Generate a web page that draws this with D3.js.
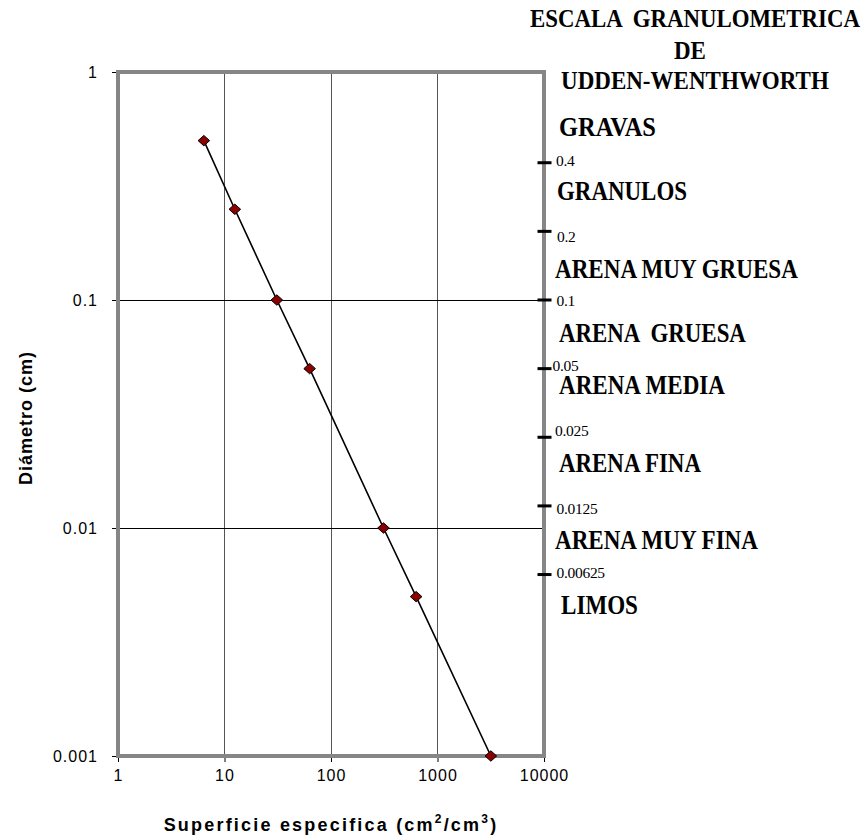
<!DOCTYPE html>
<html>
<head>
<meta charset="utf-8">
<script src="https://cdn.jsdelivr.net/npm/d3@7"></script>
<style>
  html, body { margin: 0; padding: 0; background: #fff; }
  svg { display: block; }
</style>
</head>
<body>
<svg id="chart" width="864" height="838"></svg>
<script>
// Diámetro de grano (cm) y su superficie específica (cm²/cm³)
const diametro   = [0.5, 0.25, 0.1, 0.05, 0.01, 0.005, 0.001];
const superficie = [6.4, 12.5, 31, 63, 311, 630, 3170];

const xTicks = [1, 10, 100, 1000, 10000];
const yTicks = [1, 0.1, 0.01, 0.001];
const xTickLabels = ["1", "10", "100", "1000", "10000"];
const yTickLabels = ["1", "0.1", "0.01", "0.001"];

// Límites de la escala de Udden-Wentworth (cm)
const limites = [0.4, 0.2, 0.1, 0.05, 0.025, 0.0125, 0.00625];
const limitesEtiquetas = ["0.4", "0.2", "0.1", "0.05", "0.025", "0.0125", "0.00625"];
const clases = ["GRAVAS", "GRANULOS", "ARENA MUY GRUESA", "ARENA  GRUESA",
                "ARENA MEDIA", "ARENA FINA", "ARENA MUY FINA", "LIMOS"];
const tituloEscala = ["ESCALA  GRANULOMETRICA", "DE", "UDDEN-WENTHWORTH"];

// Layout of the hand-placed scale texts (pixels)
const tituloLayout = [
  { x: 530, y: 27, w: 330, fs: 25 },
  { x: 674, y: 59, w: 32, fs: 26 },
  { x: 561, y: 89, w: 268, fs: 26 }
];
const claseLayout = [
  { x: 559, y: 135.5, w: 97 },
  { x: 557, y: 200, w: 130 },
  { x: 555, y: 278, w: 243 },
  { x: 559, y: 342, w: 187 },
  { x: 559, y: 394, w: 166 },
  { x: 559, y: 471.5, w: 142 },
  { x: 555, y: 549, w: 203 },
  { x: 561, y: 613.5, w: 77 }
];
const limiteLabelLayout = [
  { dx: 556, dy: 3 }, { dx: 557, dy: 10.5 }, { dx: 556.5, dy: 6 },
  { dx: 552.5, dy: 2.5 }, { dx: 555, dy: -1 }, { dx: 556.5, dy: 8.5 },
  { dx: 556.5, dy: 3 }
];

const svg = d3.select("#chart");
const plot = { left: 118, right: 544, top: 72, bottom: 756 };

const x = d3.scaleLog().domain([1, 10000]).range([plot.left, plot.right]);
const y = d3.scaleLog().domain([0.001, 1]).range([plot.bottom, plot.top]);

svg.append("rect").attr("width", 864).attr("height", 838).attr("fill", "#fff");

// Grid lines
const grid = svg.append("g");
grid.selectAll("line.vx").data(xTicks.slice(1, -1)).join("line")
  .attr("x1", d => x(d)).attr("x2", d => x(d))
  .attr("y1", plot.top).attr("y2", plot.bottom)
  .attr("stroke", "#555").attr("stroke-width", 1).attr("shape-rendering", "crispEdges");
grid.selectAll("line.hy").data(yTicks.slice(1, -1)).join("line")
  .attr("y1", d => y(d)).attr("y2", d => y(d))
  .attr("x1", plot.left).attr("x2", plot.right)
  .attr("stroke", "#000").attr("stroke-width", 1).attr("shape-rendering", "crispEdges");

// Axes (ticks + labels)
const axisFont = "'Liberation Sans', Arial, sans-serif";
const xAxis = d3.axisBottom(x).tickValues(xTicks)
  .tickFormat((d, i) => xTickLabels[i]).tickSize(6).tickSizeOuter(0).tickPadding(8);
const gx = svg.append("g").attr("transform", `translate(0,${plot.bottom})`).call(xAxis);
gx.select(".domain").remove();
gx.selectAll("line").attr("stroke", "#000");
gx.selectAll("text").attr("font-family", axisFont).attr("font-size", 16)
  .attr("letter-spacing", "1px").attr("fill", "#000");

const yAxis = d3.axisLeft(y).tickValues(yTicks)
  .tickFormat((d, i) => yTickLabels[i]).tickSize(6).tickSizeOuter(0).tickPadding(14);
const gy = svg.append("g").attr("transform", `translate(${plot.left},0)`).call(yAxis);
gy.select(".domain").remove();
gy.selectAll("line").attr("stroke", "#000");
gy.selectAll("text").attr("font-family", axisFont).attr("font-size", 16)
  .attr("letter-spacing", "1px").attr("fill", "#000");

// Plot frame
svg.append("rect")
  .attr("x", plot.left).attr("y", plot.top)
  .attr("width", plot.right - plot.left).attr("height", plot.bottom - plot.top)
  .attr("fill", "none").attr("stroke", "#868686").attr("stroke-width", 4);

// Data line
const puntos = diametro.map((d, i) => ({ d, s: superficie[i] }));
const linea = d3.line().x(p => x(p.s)).y(p => y(p.d));
svg.append("path").datum(puntos).attr("d", linea)
  .attr("fill", "none").attr("stroke", "#000").attr("stroke-width", 1.6);

// Diamond markers
const rombo = "M0,-5.2L5.8,0L0,5.2L-5.8,0Z";
svg.selectAll("path.mk").data(puntos).join("path")
  .attr("class", "mk")
  .attr("d", rombo)
  .attr("transform", p => `translate(${x(p.s)},${y(p.d)})`)
  .attr("fill", "#8b0000").attr("stroke", "#000").attr("stroke-width", 1);

// Axis titles
svg.append("text")
  .attr("transform", `translate(32,418) rotate(-90)`)
  .attr("text-anchor", "middle")
  .attr("font-family", axisFont).attr("font-weight", "bold").attr("font-size", 18)
  .attr("letter-spacing", "1px")
  .text("Diámetro (cm)");

const xt = svg.append("text")
  .attr("x", 331).attr("y", 831)
  .attr("text-anchor", "middle")
  .attr("font-family", axisFont).attr("font-weight", "bold").attr("font-size", 18)
  .attr("letter-spacing", "2.2px");
xt.append("tspan").text("Superficie especifica (cm");
xt.append("tspan").attr("dy", -8).attr("font-size", 12).text("2");
xt.append("tspan").attr("dy", 8).text("/cm");
xt.append("tspan").attr("dy", -8).attr("font-size", 12).text("3");
xt.append("tspan").attr("dy", 8).text(")");

// Udden-Wentworth scale on the right border
const serif = "'Liberation Serif', 'Times New Roman', serif";
svg.selectAll("rect.lim").data(limites).join("rect")
  .attr("class", "lim")
  .attr("x", 537.5).attr("y", d => y(d) - 1.5)
  .attr("width", 14).attr("height", 3).attr("fill", "#000");

svg.selectAll("text.lim").data(limites).join("text")
  .attr("class", "lim")
  .attr("x", (d, i) => limiteLabelLayout[i].dx)
  .attr("y", (d, i) => y(d) + limiteLabelLayout[i].dy)
  .attr("font-family", serif).attr("font-size", 15.5).attr("letter-spacing", "-0.3px")
  .text((d, i) => limitesEtiquetas[i]);

// Condensed bold serif labels: squeeze each to its width with a horizontal scale
function condensado(sel, layout, fontSize) {
  sel.each(function (d, i) {
    const t = d3.select(this)
      .attr("font-family", serif).attr("font-weight", "bold")
      .attr("font-size", fontSize(i))
      .style("white-space", "pre")
      .text(d);
    const w0 = this.getComputedTextLength();
    const L = layout[i];
    t.attr("transform", `translate(${L.x},${L.y}) scale(${L.w / w0},1)`);
  });
}

condensado(
  svg.selectAll("text.tit").data(tituloEscala).join("text").attr("class", "tit"),
  tituloLayout, i => tituloLayout[i].fs);

condensado(
  svg.selectAll("text.cls").data(clases).join("text").attr("class", "cls"),
  claseLayout, () => 27);
</script>
</body>
</html>
